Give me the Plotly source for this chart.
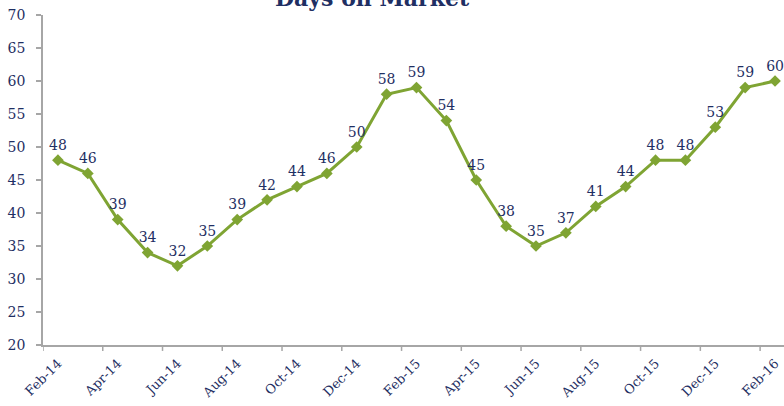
import plotly.graph_objects as go

months = ["Feb-14", "Mar-14", "Apr-14", "May-14", "Jun-14", "Jul-14", "Aug-14", "Sep-14",
          "Oct-14", "Nov-14", "Dec-14", "Jan-15", "Feb-15", "Mar-15", "Apr-15", "May-15",
          "Jun-15", "Jul-15", "Aug-15", "Sep-15", "Oct-15", "Nov-15", "Dec-15", "Jan-16", "Feb-16"]
days_on_market = [48, 46, 39, 34, 32, 35, 39, 42, 44, 46, 50, 58, 59, 54, 45, 38, 35, 37,
                  41, 44, 48, 48, 53, 59, 60]
title_text = "Days on Market"

NAVY = "#1F2F63"
GREEN = "#7FA433"
AXIS = "#A6A6A6"
FONT = "DejaVu Serif"

fig = go.Figure()
fig.add_trace(go.Scatter(
    x=list(range(len(months))), y=days_on_market,
    mode="lines+markers+text",
    line=dict(color=GREEN, width=3),
    marker=dict(symbol="diamond", size=9, color=GREEN),
    text=[str(v) for v in days_on_market],
    textposition="top center",
    textfont=dict(family=FONT, size=14, color=NAVY),
    cliponaxis=False,
    hoverinfo="skip",
))

fig.update_layout(
    width=784, height=406,
    margin=dict(l=43, r=0, t=15, b=61),
    paper_bgcolor="white", plot_bgcolor="white",
    showlegend=False,
    font=dict(family=FONT, color=NAVY, size=13),
    xaxis=dict(
        range=[-0.5, 24.3], automargin=False,
        tickmode="array",
        tickvals=[i for i in range(0, len(months), 2)],
        ticktext=[months[i] for i in range(0, len(months), 2)],
        tickangle=-45,
        showgrid=False, zeroline=False,
        showline=True, linecolor=AXIS, linewidth=1.5,
        ticks="", tickfont=dict(family=FONT, size=13, color=NAVY),
        ticklabelstandoff=4,
    ),
    yaxis=dict(
        range=[20, 70], dtick=5, tick0=20, automargin=False,
        showgrid=False, zeroline=False,
        showline=True, linecolor=AXIS, linewidth=1.5,
        ticks="outside", ticklen=5, tickcolor=AXIS, tickwidth=1.5,
        tickfont=dict(family=FONT, size=14, color=NAVY),
        ticklabelstandoff=8,
    ),
    annotations=[dict(
        text="<b>" + title_text + "</b>", x=(372 - 43) / 741, y=1, xref="paper", yref="paper",
        xanchor="center", yanchor="middle", yshift=17, showarrow=False,
        font=dict(family=FONT, size=22, color=NAVY),
    )],
)

# boundary tick marks between categories (every two months)
for i in range(0, len(months) + 1, 2):
    fig.add_shape(type="line", xref="x", yref="paper", x0=i - 0.5, x1=i - 0.5, y0=0, y1=-0.018,
                  line=dict(color=AXIS, width=1.5))

fig.write_html("out.html", config={"displayModeBar": False},
               post_script="document.body.style.margin='0';document.body.style.overflow='hidden';")
